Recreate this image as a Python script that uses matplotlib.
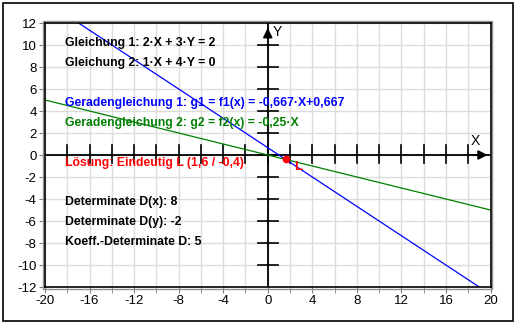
import numpy as np
import matplotlib.pyplot as plt
from matplotlib.patches import Rectangle

plt.rcParams['font.family'] = ['Liberation Sans', 'DejaVu Sans']
plt.rcParams['axes.unicode_minus'] = False

# line equations g(x) = m*x + b
g1_slope, g1_icpt = -0.667, 0.667
g2_slope, g2_icpt = -0.25, 0.0
solution = (1.6, -0.4)

info_black = ['Gleichung 1: 2·X + 3·Y = 2', 'Gleichung 2: 1·X + 4·Y = 0']
info_lines = ['Geradengleichung 1: g1 = f1(x) = -0,667·X+0,667',
              'Geradengleichung 2: g2 = f2(x) = -0,25·X']
info_solution = 'Lösung: Eindeutig L (1,6 / -0,4)'
info_det = ['Determinate D(x): 8', 'Determinate D(y): -2', 'Koeff.-Determinate D: 5']

fig = plt.figure(figsize=(5.15, 3.24), dpi=100)
fig.patches.append(Rectangle((3 / 515, 3 / 324), 510 / 515, 318 / 324, transform=fig.transFigure,
                             fill=False, edgecolor='black', lw=1.2))
ax = fig.add_axes([45 / 515, 1 - 287 / 324, 445.5 / 515, 264 / 324])
ax.set_xlim(-20, 20)
ax.set_ylim(-12, 12)

# grid
ax.set_xticks(np.arange(-20, 21, 4))
ax.set_xticks(np.arange(-20, 21, 2), minor=True)
ax.set_yticks(np.arange(-12, 13, 2))
ax.grid(True, which='both', color='#dcdcdc', lw=1)
ax.set_axisbelow(True)
ax.tick_params(which='both', direction='out', length=4, color='gray', labelsize=9.5, pad=2)
for s in ax.spines.values():
    s.set_color('black')
    s.set_linewidth(1.2)
ax.add_patch(Rectangle((-0.004, -0.006), 1.008, 1.012, transform=ax.transAxes, fill=False,
                       edgecolor='#909090', lw=1, clip_on=False))

# coordinate axes with ticks and arrows
ax.axhline(0, color='black', lw=1.3)
ax.axvline(0, color='black', lw=1.3)
for t in np.arange(-18, 19, 2):
    ax.plot([t, t], [-0.75, 0.9], color='black', lw=1.2)
for t in np.arange(-10, 11, 2):
    ax.plot([-0.9, 0.9], [t, t], color='black', lw=1.2)
ax.annotate('', xy=(20, 0), xytext=(18.2, 0),
            arrowprops=dict(arrowstyle='-|>', color='black', lw=1.2, mutation_scale=14))
ax.annotate('', xy=(0, 11.8), xytext=(0, 10.4),
            arrowprops=dict(arrowstyle='-|>', color='black', lw=1.2, mutation_scale=14))
ax.text(18.6, 0.6, 'X', fontsize=10, ha='center', va='bottom')
ax.text(0.9, 11.2, 'Y', fontsize=10, ha='center', va='center')

# lines
xs = np.linspace(-20, 20, 200)
ax.plot(xs, g1_slope * xs + g1_icpt, color='blue', lw=0.9)
ax.plot(xs, g2_slope * xs + g2_icpt, color='green', lw=0.9)
ax.plot(*solution, 'o', color='red', ms=4.5)
ax.text(solution[0] + 0.8, solution[1] - 0.1, 'L', color='red', fontsize=9.5, fontweight='bold',
        ha='left', va='top')

# texts
tx = -18.2
fs = 8.8
ax.text(tx, 10.18, info_black[0], fontsize=fs, fontweight='bold', va='center')
ax.text(tx, 8.36, info_black[1], fontsize=fs, fontweight='bold', va='center')
ax.text(tx, 4.73, info_lines[0], fontsize=fs, fontweight='bold', va='center', color='blue')
ax.text(tx, 2.9, info_lines[1], fontsize=fs, fontweight='bold', va='center', color='green')
ax.text(tx, -0.75, info_solution, fontsize=fs, fontweight='bold', va='center', color='red')
ax.text(tx, -4.3, info_det[0], fontsize=fs, fontweight='bold', va='center')
ax.text(tx, -6.1, info_det[1], fontsize=fs, fontweight='bold', va='center')
ax.text(tx, -7.9, info_det[2], fontsize=fs, fontweight='bold', va='center')

fig.savefig('out.png', dpi=100)
